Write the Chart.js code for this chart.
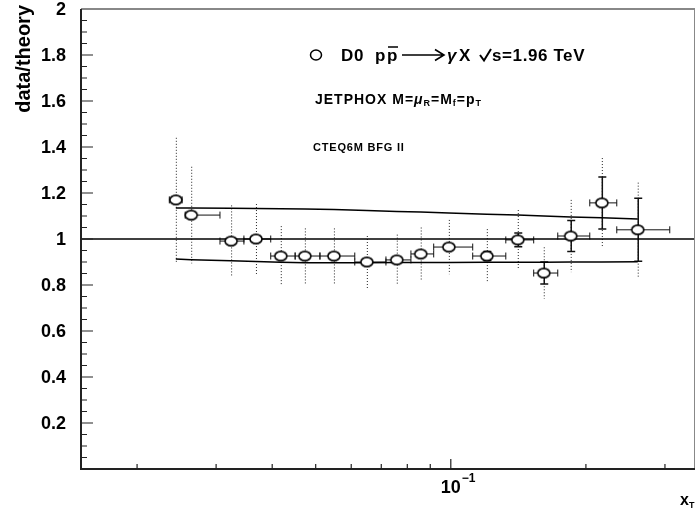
<!DOCTYPE html>
<html lang="en">
<head>
  <meta charset="UTF-8">
  <title>data/theory vs xT</title>
  <script src="https://cdn.jsdelivr.net/npm/chart.js"></script>
  <style>
    body { margin: 0; background: #fff; }
    canvas { display: block; }
  </style>
</head>
<body>
  <canvas id="chart" width="696" height="512"></canvas>
  <script>
    // D0 photon points (x_T, data/theory)
    const xVals  = [0.0244, 0.0264, 0.0324, 0.0368, 0.0418, 0.0473, 0.0549, 0.0650, 0.0758, 0.0857, 0.0990, 0.1203, 0.1410, 0.1611, 0.1850, 0.2170, 0.2609];
    const xLow   = [0.0236, 0.0256, 0.0306, 0.0346, 0.0397, 0.0450, 0.0511, 0.0611, 0.0717, 0.0815, 0.0916, 0.1119, 0.1326, 0.1530, 0.1731, 0.2040, 0.2343];
    const xHigh  = [0.0252, 0.0306, 0.0346, 0.0397, 0.0450, 0.0511, 0.0611, 0.0717, 0.0815, 0.0916, 0.1119, 0.1326, 0.1530, 0.1731, 0.2040, 0.2343, 0.3075];
    const ratio  = [1.170, 1.104, 0.991, 1.000, 0.926, 0.926, 0.926, 0.900, 0.909, 0.935, 0.965, 0.926, 0.996, 0.852, 1.013, 1.157, 1.040];
    const statErr = [0.010, 0.010, 0.010, 0.010, 0.010, 0.010, 0.010, 0.010, 0.010, 0.012, 0.015, 0.020, 0.030, 0.048, 0.067, 0.113, 0.137];
    const totErr  = [0.270, 0.210, 0.155, 0.152, 0.130, 0.120, 0.120, 0.113, 0.110, 0.115, 0.118, 0.117, 0.130, 0.112, 0.157, 0.195, 0.205];

    // JETPHOX scale band
    const theoryUp   = [1.135, 1.135, 1.134, 1.133, 1.132, 1.130, 1.128, 1.124, 1.120, 1.117, 1.113, 1.108, 1.104, 1.100, 1.096, 1.092, 1.087];
    const theoryDown = [0.913, 0.910, 0.905, 0.902, 0.899, 0.897, 0.897, 0.897, 0.898, 0.898, 0.898, 0.899, 0.899, 0.899, 0.900, 0.900, 0.901];

    const xRange = [0.015, 0.35];
    const yTicks = [0.2, 0.4, 0.6, 0.8, 1, 1.2, 1.4, 1.6, 1.8, 2];
    const xMinor = [0.02, 0.03, 0.04, 0.05, 0.06, 0.07, 0.08, 0.09, 0.2, 0.3];
    const xMajor = [0.1];

    const FONT = '"Liberation Sans", Arial, sans-serif';

    // open marker, a bit wider than tall like the original
    const marker = document.createElement('canvas');
    marker.width = 16; marker.height = 13;
    (function () {
      const c = marker.getContext('2d');
      c.beginPath();
      c.ellipse(8, 6.5, 6, 4.6, 0, 0, Math.PI * 2);
      c.fillStyle = '#fff';
      c.fill();
      c.lineWidth = 1.6;
      c.strokeStyle = '#000';
      c.stroke();
    })();

    const errorBars = {
      id: 'errorBars',
      beforeDatasetsDraw(chart) {
        const ctx = chart.ctx;
        const xs = chart.scales.x, ys = chart.scales.y;
        ctx.save();
        xVals.forEach((xv, i) => {
          const px = xs.getPixelForValue(xv);
          const py = ys.getPixelForValue(ratio[i]);
          // total (dotted)
          ctx.setLineDash([1, 2]);
          ctx.lineWidth = 1;
          ctx.strokeStyle = '#222';
          ctx.beginPath();
          ctx.moveTo(px + 0.5, ys.getPixelForValue(ratio[i] + totErr[i]));
          ctx.lineTo(px + 0.5, ys.getPixelForValue(ratio[i] - totErr[i]));
          ctx.stroke();
          ctx.setLineDash([]);
          // x bins
          const pl = xs.getPixelForValue(xLow[i]);
          const pr = xs.getPixelForValue(xHigh[i]);
          ctx.lineWidth = 1;
          ctx.strokeStyle = '#111';
          ctx.beginPath();
          ctx.moveTo(pl, py); ctx.lineTo(pr, py);
          ctx.moveTo(pl, py - 3.5); ctx.lineTo(pl, py + 3.5);
          ctx.moveTo(pr, py - 3.5); ctx.lineTo(pr, py + 3.5);
          ctx.stroke();
          // stat
          const pt = ys.getPixelForValue(ratio[i] + statErr[i]);
          const pb = ys.getPixelForValue(ratio[i] - statErr[i]);
          if (py - pt > 4) {
            ctx.lineWidth = 1.5;
            ctx.beginPath();
            ctx.moveTo(px + 0.5, pt); ctx.lineTo(px + 0.5, pb);
            ctx.moveTo(px - 3.5, pt); ctx.lineTo(px + 4.5, pt);
            ctx.moveTo(px - 3.5, pb); ctx.lineTo(px + 4.5, pb);
            ctx.stroke();
          }
        });
        ctx.restore();
      },
      afterDraw(chart) {
        const ctx = chart.ctx;
        const a = chart.chartArea;
        const xs = chart.scales.x, ys = chart.scales.y;
        ctx.save();

        // frame
        ctx.strokeStyle = '#888';
        ctx.lineWidth = 2;
        ctx.beginPath();
        ctx.moveTo(a.left, a.top); ctx.lineTo(a.right, a.top);
        ctx.stroke();
        ctx.lineWidth = 1;
        ctx.beginPath();
        ctx.moveTo(a.right - 0.5, a.top); ctx.lineTo(a.right - 0.5, a.bottom);
        ctx.stroke();
        ctx.strokeStyle = '#222';
        ctx.lineWidth = 2;
        ctx.beginPath();
        ctx.moveTo(a.left, a.top); ctx.lineTo(a.left, a.bottom);
        ctx.lineTo(a.right, a.bottom);
        ctx.stroke();

        // y ticks, inside
        ctx.lineWidth = 1.2;
        ctx.beginPath();
        for (let k = 1; k < 40; k++) {
          const y = ys.getPixelForValue(k * 0.05);
          const len = k % 4 === 0 ? 12 : 6;
          ctx.moveTo(a.left, y); ctx.lineTo(a.left + len, y);
        }
        // x ticks, inside
        xMinor.forEach(v => {
          const x = xs.getPixelForValue(v);
          ctx.moveTo(x, a.bottom); ctx.lineTo(x, a.bottom - 5);
        });
        xMajor.forEach(v => {
          const x = xs.getPixelForValue(v);
          ctx.moveTo(x, a.bottom); ctx.lineTo(x, a.bottom - 10);
        });
        ctx.stroke();

        // y tick labels
        ctx.fillStyle = '#000';
        ctx.font = 'bold 18px ' + FONT;
        ctx.textAlign = 'right';
        ctx.textBaseline = 'middle';
        yTicks.forEach(v => {
          ctx.fillText(String(v), 66, ys.getPixelForValue(v) + 1);
        });

        // x tick label 10^-1
        const x01 = xs.getPixelForValue(0.1);
        ctx.textBaseline = 'alphabetic';
        ctx.textAlign = 'right';
        ctx.font = 'bold 18px ' + FONT;
        ctx.fillText('10', x01 + 10, 493);
        ctx.textAlign = 'left';
        ctx.font = 'bold 12px ' + FONT;
        ctx.fillText('\u22121', x01 + 11, 482);

        // axis titles
        ctx.font = 'bold 16px ' + FONT;
        ctx.fillText('x', 680, 505);
        ctx.font = 'bold 9px ' + FONT;
        ctx.fillText('T', 689, 508);

        ctx.save();
        ctx.translate(30, 5);
        ctx.rotate(-Math.PI / 2);
        ctx.textAlign = 'right';
        ctx.font = 'bold 20px ' + FONT;
        ctx.fillText('data/theory', 0, 0);
        ctx.restore();

        // legend block
        const ly = 61;
        ctx.lineWidth = 1.5;
        ctx.strokeStyle = '#000';
        ctx.beginPath();
        ctx.ellipse(316, ly - 6, 5.5, 5, 0, 0, Math.PI * 2);
        ctx.stroke();

        ctx.textAlign = 'left';
        ctx.letterSpacing = '0.6px';
        ctx.font = 'bold 17px ' + FONT;
        ctx.fillText('D0', 341, ly);
        ctx.fillText('p', 375, ly);
        ctx.fillText('p', 387, ly);
        ctx.lineWidth = 1.6;
        ctx.beginPath();
        ctx.moveTo(388, ly - 14); ctx.lineTo(398, ly - 14);
        // long arrow
        ctx.moveTo(402, ly - 6); ctx.lineTo(443, ly - 6);
        ctx.moveTo(435, ly - 11.5); ctx.lineTo(444, ly - 6); ctx.lineTo(435, ly - 0.5);
        ctx.stroke();
        ctx.font = 'bold italic 17px ' + FONT;
        ctx.fillText('\u03B3', 447, ly);
        ctx.font = 'bold 17px ' + FONT;
        ctx.fillText('X', 459, ly);
        ctx.lineWidth = 2;
        ctx.beginPath();
        ctx.moveTo(480, ly - 6); ctx.lineTo(484, ly - 0.5); ctx.lineTo(491, ly - 12);
        ctx.stroke();
        ctx.fillText('s=1.96 TeV', 492, ly);

        // JETPHOX line
        ctx.letterSpacing = '1px';
        let x = 315;
        const put2 = (t, f, dy) => {
          ctx.font = f;
          ctx.fillText(t, x, 104 + (dy || 0));
          x += ctx.measureText(t).width;
        };
        const b14 = 'bold 14px ' + FONT;
        const sub = 'bold 9px ' + FONT;
        put2('JETPHOX M=', b14);
        put2('\u03BC', 'bold italic 14px ' + FONT);
        put2('R', sub, 2);
        put2('=M', b14);
        put2('f', sub, 2);
        put2('=p', b14);
        put2('T', sub, 2);

        ctx.letterSpacing = '0.8px';
        ctx.font = 'bold 11px ' + FONT;
        ctx.fillText('CTEQ6M BFG II', 313, 151);
        ctx.letterSpacing = '0px';

        ctx.restore();
      }
    };

    new Chart(document.getElementById('chart'), {
      data: {
        datasets: [
          {
            type: 'scatter',
            data: xVals.map((x, i) => ({ x, y: ratio[i] })),
            pointStyle: marker,
            order: 0
          },
          {
            type: 'line',
            data: xVals.map((x, i) => ({ x, y: theoryUp[i] })),
            borderColor: '#000',
            borderWidth: 1.5,
            pointRadius: 0,
            tension: 0,
            order: 2
          },
          {
            type: 'line',
            data: xVals.map((x, i) => ({ x, y: theoryDown[i] })),
            borderColor: '#000',
            borderWidth: 1.5,
            pointRadius: 0,
            tension: 0,
            order: 2
          },
          {
            type: 'line',
            data: xRange.map(x => ({ x, y: 1 })),
            borderColor: '#000',
            borderWidth: 1.5,
            pointRadius: 0,
            order: 3
          }
        ]
      },
      options: {
        responsive: false,
        devicePixelRatio: 1,
        animation: false,
        layout: { autoPadding: false, padding: { left: 81, top: 9, right: 1, bottom: 43 } },
        plugins: { legend: { display: false }, tooltip: { enabled: false } },
        scales: {
          x: { type: 'logarithmic', min: xRange[0], max: xRange[1], display: false },
          y: { min: 0, max: 2, display: false }
        }
      },
      plugins: [errorBars]
    });
  </script>
</body>
</html>
